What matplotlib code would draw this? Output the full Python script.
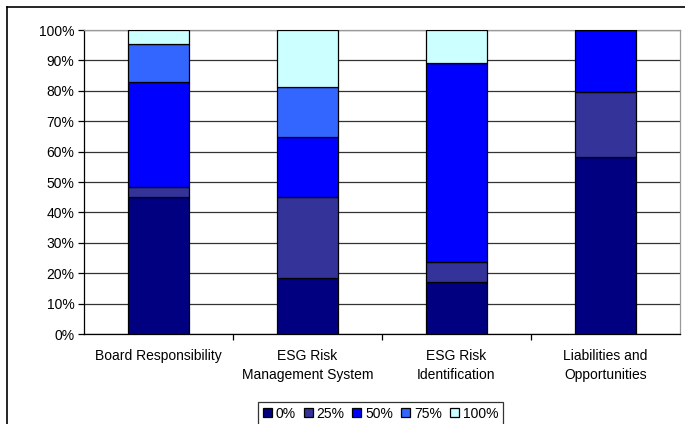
import matplotlib
matplotlib.use("Agg")
import matplotlib.pyplot as plt
from matplotlib.lines import Line2D
import numpy as np

plt.rcParams['font.family'] = ['Liberation Sans', 'DejaVu Sans']

categories = ["Board Responsibility", "ESG Risk\nManagement System",
              "ESG Risk\nIdentification", "Liabilities and\nOpportunities"]
series_names = ["0%", "25%", "50%", "75%", "100%"]
values = {
    "0%":   [45.2, 18.3, 17.0, 58.1],
    "25%":  [3.3, 26.8, 6.6, 21.5],
    "50%":  [34.3, 19.7, 65.7, 20.4],
    "75%":  [12.5, 16.6, 0.0, 0.0],
    "100%": [4.7, 18.6, 10.7, 0.0],
}
colors = ["#000080", "#333399", "#0000FF", "#3366FF", "#CCFFFF"]
yticks = np.arange(0, 101, 10)

fig = plt.figure(figsize=(6.85, 4.24), dpi=100)
ax = fig.add_axes([84/685, 1-334/424, 596/685, 304/424])

x = np.arange(len(categories))
bottom = np.zeros(len(categories))
for name, col in zip(series_names, colors):
    v = np.array(values[name])
    ax.bar(x, v, width=0.41, bottom=bottom, color=col, edgecolor="black",
           linewidth=0.9, label=name, zorder=3)
    bottom += v

ax.set_xlim(-0.5, len(categories) - 0.5)
ax.set_ylim(0, 100)
ax.set_yticks(yticks)
ax.set_yticklabels([f"{t}%" for t in yticks], fontsize=10)
ax.yaxis.grid(True, color="#333333", linewidth=0.9, zorder=0)

ax.set_xticks(x)
ax.set_xticklabels(categories, fontsize=10, linespacing=1.45)
ax.set_xticks(np.arange(0.5, len(categories) - 0.5, 1), minor=True)
ax.tick_params(axis="x", which="major", length=0, pad=11)
ax.tick_params(axis="x", which="minor", length=4, width=0.9, color="black", direction="out")
ax.tick_params(axis="y", length=4, width=0.9, color="black", direction="out", pad=3)

for s in ("left", "bottom"):
    ax.spines[s].set_color("black")
    ax.spines[s].set_linewidth(0.9)
for s in ("top", "right"):
    ax.spines[s].set_color("#999999")
    ax.spines[s].set_linewidth(0.9)

leg = fig.legend(loc="center", bbox_to_anchor=(380.5/685, 1-413.5/424), ncol=5,
                 fontsize=10, frameon=True, fancybox=False, shadow=False,
                 handlelength=0.65, handleheight=0.65, handletextpad=0.3,
                 columnspacing=0.55, borderpad=0.3, borderaxespad=0)
leg.get_frame().set_edgecolor("black")
leg.get_frame().set_linewidth(0.9)

# outer chart frame (top and left edges)
fig.add_artist(Line2D([7/685, 7/685], [-0.1, 1-7/424], transform=fig.transFigure,
                      color="black", linewidth=1.2))
fig.add_artist(Line2D([7/685, 1.1], [1-7/424, 1-7/424], transform=fig.transFigure,
                      color="black", linewidth=1.2))

fig.savefig("out.png", dpi=100)
